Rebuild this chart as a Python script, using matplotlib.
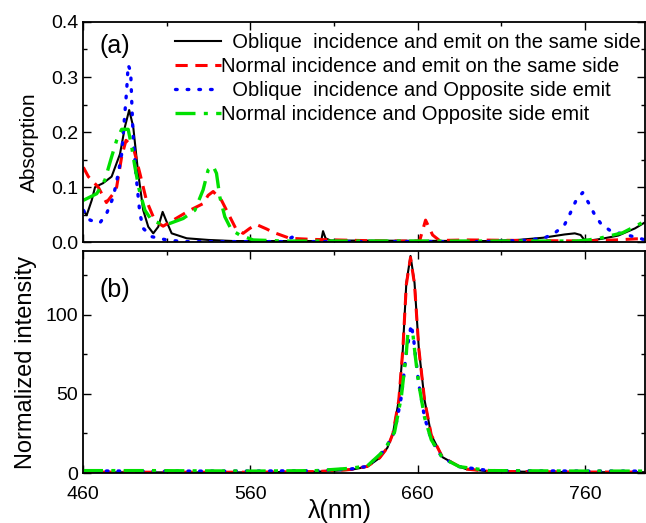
import numpy as np
import matplotlib
matplotlib.use("Agg")
import matplotlib.pyplot as plt
from matplotlib.ticker import MultipleLocator, FormatStrFormatter

plt.rcParams["font.family"] = ["Liberation Sans", "DejaVu Sans"]

labels = [
    "  Oblique  incidence and emit on the same side",
    "Normal incidence and emit on the same side",
    "  Oblique  incidence and Opposite side emit",
    "Normal incidence and Opposite side emit",
]

# ---- (a) absorption ----
wl_a_black = [460, 462.2, 465.2, 467.2, 471.9, 477.1, 482.1, 485.1, 487.6, 490, 493, 496, 499, 502,
              505, 507.6, 510, 513, 522, 535, 550, 601, 602.5, 603.5, 605, 608, 700, 720, 735, 748,
              754, 757.5, 759.5, 763, 770, 780, 790, 796]
abs_black = [0.058, 0.049, 0.076, 0.1, 0.107, 0.119, 0.16, 0.21, 0.24, 0.21, 0.125, 0.058, 0.028, 0.016,
             0.028, 0.055, 0.037, 0.016, 0.007, 0.004, 0.002, 0.002, 0.004, 0.02, 0.007, 0.003, 0.002, 0.004, 0.008, 0.014,
             0.016, 0.013, 0.005, 0.003, 0.006, 0.012, 0.025, 0.036]

wl_a_red = [460.2, 463.2, 469.1, 474, 478.1, 480.1, 483.1, 485.7, 490, 494, 498, 502, 504.8, 507.9,
            513.9, 523.9, 531.8, 534.8, 537.8, 542.8, 547.8, 551.3, 555.7, 559.7, 563.7, 569.7, 573.6,
            583.6, 597, 640, 661.2, 664.8, 669, 673.1, 690, 760, 778.6, 790.6, 796]
abs_red = [0.136, 0.119, 0.1, 0.072, 0.088, 0.1, 0.155, 0.185, 0.173, 0.125, 0.075, 0.046, 0.035, 0.029,
           0.04, 0.058, 0.07, 0.085, 0.092, 0.076, 0.046, 0.025, 0.016, 0.025, 0.032, 0.024, 0.018,
           0.007, 0.005, 0.002, 0.002, 0.04, 0.013, 0.003, 0.004, 0.002, 0.004, 0.006, 0.006]

wl_a_blue = [460.2, 464.2, 470.1, 474.1, 478.1, 481.1, 483.1, 486.1, 487, 488.5, 489.1, 490, 491.6,
             493, 494, 496, 501, 510, 520, 580, 585, 590, 700, 722.7, 729.9, 736.8, 741.8, 747.8,
             751.2, 754.8, 758.7, 762.3, 765.7, 769.7, 775.6, 790.6, 796]
abs_blue = [0.058, 0.04, 0.035, 0.052, 0.082, 0.125, 0.16, 0.276, 0.322, 0.31, 0.258, 0.19, 0.125,
            0.082, 0.052, 0.025, 0.01, 0.004, 0.001, 0.001, 0.009, 0.001, 0.001, 0.003, 0.005, 0.009, 0.016, 0.031,
            0.052, 0.076, 0.09, 0.071, 0.051, 0.033, 0.02, 0.009, 0.004]

wl_a_green = [460.2, 468.2, 473.1, 477.1, 480.1, 483.1, 487, 489.1, 491, 493.6, 497, 501, 506, 511.9,
              519.9, 526.9, 531.8, 534.8, 537.8, 539.8, 541.8, 544.8, 548.8, 553.7, 561.7, 580, 755,
              762, 768.7, 782.6, 796]
abs_green = [0.076, 0.088, 0.113, 0.155, 0.185, 0.205, 0.205, 0.173, 0.137, 0.095, 0.058, 0.04, 0.034, 0.034,
             0.043, 0.058, 0.095, 0.131, 0.138, 0.125, 0.082, 0.046, 0.022, 0.013, 0.004, 0.002, 0.002,
             0.004, 0.007, 0.017, 0.038]

# ---- (b) normalized intensity ----
wl_b_black = [460, 500, 560, 600, 620, 630, 637.3, 642, 645.3, 648.8, 651.2, 653.3, 655.8, 658.2,
              660.8, 664.2, 668.2, 674.9, 685, 689, 703, 760, 796]
int_black = [0.5, 0.4, 0.4, 0.8, 2.0, 4.0, 9.5, 16, 25, 46, 78, 120, 137, 120,
             78, 46, 24, 10, 4, 2.5, 1.0, 0.5, 0.5]

wl_b_red = [460, 500, 560, 600, 620, 630, 637.3, 642, 645.3, 648.8, 651.2, 653.3, 655.8, 658.2,
            660.8, 664.2, 668.2, 674.9, 685, 689, 703, 760, 796]
int_red = [0.6, 0.5, 0.5, 0.9, 2.2, 4.2, 9.5, 16, 25, 46, 78, 119, 136, 119,
           78, 46, 24, 10, 4, 2.5, 1.0, 0.6, 0.6]

wl_b_blue = [460, 500, 560, 600, 620, 630, 640.3, 646.3, 650.3, 653.3, 655, 656.2, 657.5, 659,
             660.6, 664.2, 668.2, 674.9, 685, 703, 760, 796]
int_blue = [1.3, 1.2, 1.2, 1.5, 2.5, 4.2, 14.5, 26, 48, 76, 86, 93.7, 86, 72,
            57, 35, 21, 9.5, 4, 1.5, 1.2, 1.2]

wl_b_green = [460, 500, 560, 600, 620, 630, 640.3, 646.3, 650.3, 653.3, 654.2, 657.2, 658.5,
              660.6, 664.2, 668.2, 674.9, 685, 703, 760, 796]
int_green = [1.5, 1.5, 1.2, 1.5, 3.0, 4.5, 14.5, 26, 48, 76, 88, 88, 75,
             57, 35, 21, 9.5, 4, 1.5, 1.2, 1.2]

fig = plt.figure(figsize=(6.46, 5.23), dpi=100)
ax1 = fig.add_axes([0.1285, 0.537, 0.870, 0.421])
ax2 = fig.add_axes([0.1285, 0.0956, 0.870, 0.424], sharex=ax1)

styles = [
    dict(color="black", linestyle="-", linewidth=1.5),
    dict(color="red", linestyle=(0, (4, 2.5)), linewidth=2.2),
    dict(color="blue", linestyle=(0, (0.5, 3)), linewidth=2.4, dash_capstyle="round"),
    dict(color="#00e000", linestyle=(0, (6, 2.5, 1.2, 2.5)), linewidth=2.4),
]

top = [(wl_a_black, abs_black), (wl_a_red, abs_red), (wl_a_blue, abs_blue), (wl_a_green, abs_green)]
bot = [(wl_b_black, int_black), (wl_b_red, int_red), (wl_b_blue, int_blue), (wl_b_green, int_green)]

for (x, y), st, lab in zip(top, styles, labels):
    ax1.plot(x, y, label=lab, **st)
for (x, y), st in zip(bot, styles):
    ax2.plot(x, y, **st)

ax1.set_xlim(460, 796)
ax1.set_ylim(0, 0.4)
ax2.set_ylim(0, 140)

for ax in (ax1, ax2):
    ax.xaxis.set_major_locator(MultipleLocator(100, offset=60))
    ax.xaxis.set_minor_locator(MultipleLocator(50, offset=10))
    ax.tick_params(which="both", direction="in", top=True, right=True, labelsize=14, width=1.0)
    ax.tick_params(which="major", length=6)
    ax.tick_params(which="minor", length=3)
    for s in ax.spines.values():
        s.set_linewidth(1.3)

ax1.yaxis.set_major_locator(MultipleLocator(0.1))
ax1.yaxis.set_minor_locator(MultipleLocator(0.05))
ax1.yaxis.set_major_formatter(FormatStrFormatter("%.1f"))
ax1.tick_params(labelbottom=False)
ax2.yaxis.set_major_locator(MultipleLocator(50))
ax2.yaxis.set_minor_locator(MultipleLocator(25))
ax2.tick_params(axis="x", pad=9)

ax1.set_ylabel("Absorption", fontsize=15)
ax2.set_ylabel("Normalized intensity", fontsize=17)
ax1.yaxis.set_label_coords(-0.078, 0.455)
ax2.yaxis.set_label_coords(-0.082, 0.5)
ax2.set_xlabel("λ(nm)", fontsize=18, va="top")
ax2.xaxis.set_label_coords(0.457, -0.115)

ax1.text(0.03, 0.89, "(a)", transform=ax1.transAxes, fontsize=18, va="center")
ax2.text(0.03, 0.824, "(b)", transform=ax2.transAxes, fontsize=18, va="center")

ax1.legend(loc="upper left", bbox_to_anchor=(0.1566, 0.97), frameon=False, fontsize=14.5,
           handlelength=2.3, handletextpad=0.0, labelspacing=0.25, borderpad=0.2, borderaxespad=0)

fig.savefig("out.png", dpi=100)
